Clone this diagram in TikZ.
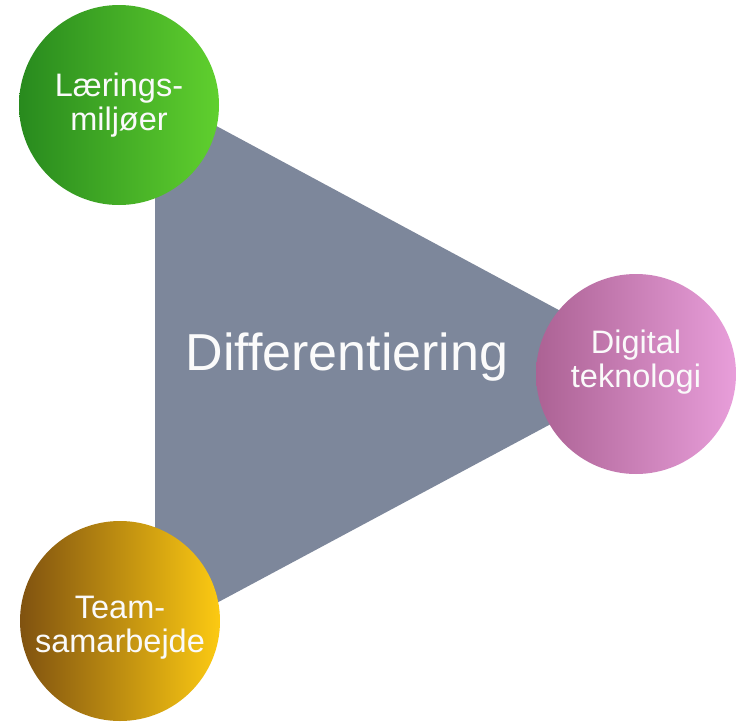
\documentclass[tikz,border=0pt]{standalone}
\usepackage{fontspec}
\setmainfont{Liberation Sans}
\definecolor{tri}{RGB}{125,135,155}
\definecolor{gL}{RGB}{40,138,30}
\definecolor{gR}{RGB}{96,208,46}
\definecolor{pL}{RGB}{172,98,148}
\definecolor{pR}{RGB}{232,158,218}
\definecolor{oL}{RGB}{128,82,16}
\definecolor{oR}{RGB}{252,202,18}
\begin{document}
\begin{tikzpicture}[x=1pt,y=-1pt,
  bubble/.style={circle, minimum size=200pt, inner sep=0pt},
  lbl/.style={align=center, font=\fontsize{32.5}{34}\selectfont, text=white!96!gray},
  big/.style={font=\fontsize{52}{60}\selectfont, text=white!97!gray}]
\useasboundingbox (0,0) rectangle (737,723);
\fill[white] (0,0) rectangle (737,723);
% triangle
\coordinate (t1) at (155,93);
\coordinate (t2) at (155,636);
\coordinate (t3) at (661,365);
\fill[tri] (t1) -- (t2) -- (t3) -- cycle;
% central text
\node[big] (diff) at (347,357) {Differentiering};
% circles
\node[bubble, left color=gL, right color=gR] (lm) at (119,105) {};
\node[bubble, left color=pL, right color=pR] (dt) at (636,374) {};
\node[bubble, left color=oL, right color=oR] (ts) at (120,621) {};
% labels
\node[lbl] (lmt) at (lm) {Lærings-\\miljøer};
\node[lbl] (dtt) at ([yshift=12pt]dt.center) {Digital\\teknologi};
\node[lbl] (tst) at ([yshift=-7pt]ts.center) {Team-\\samarbejde};
\end{tikzpicture}
\end{document}
